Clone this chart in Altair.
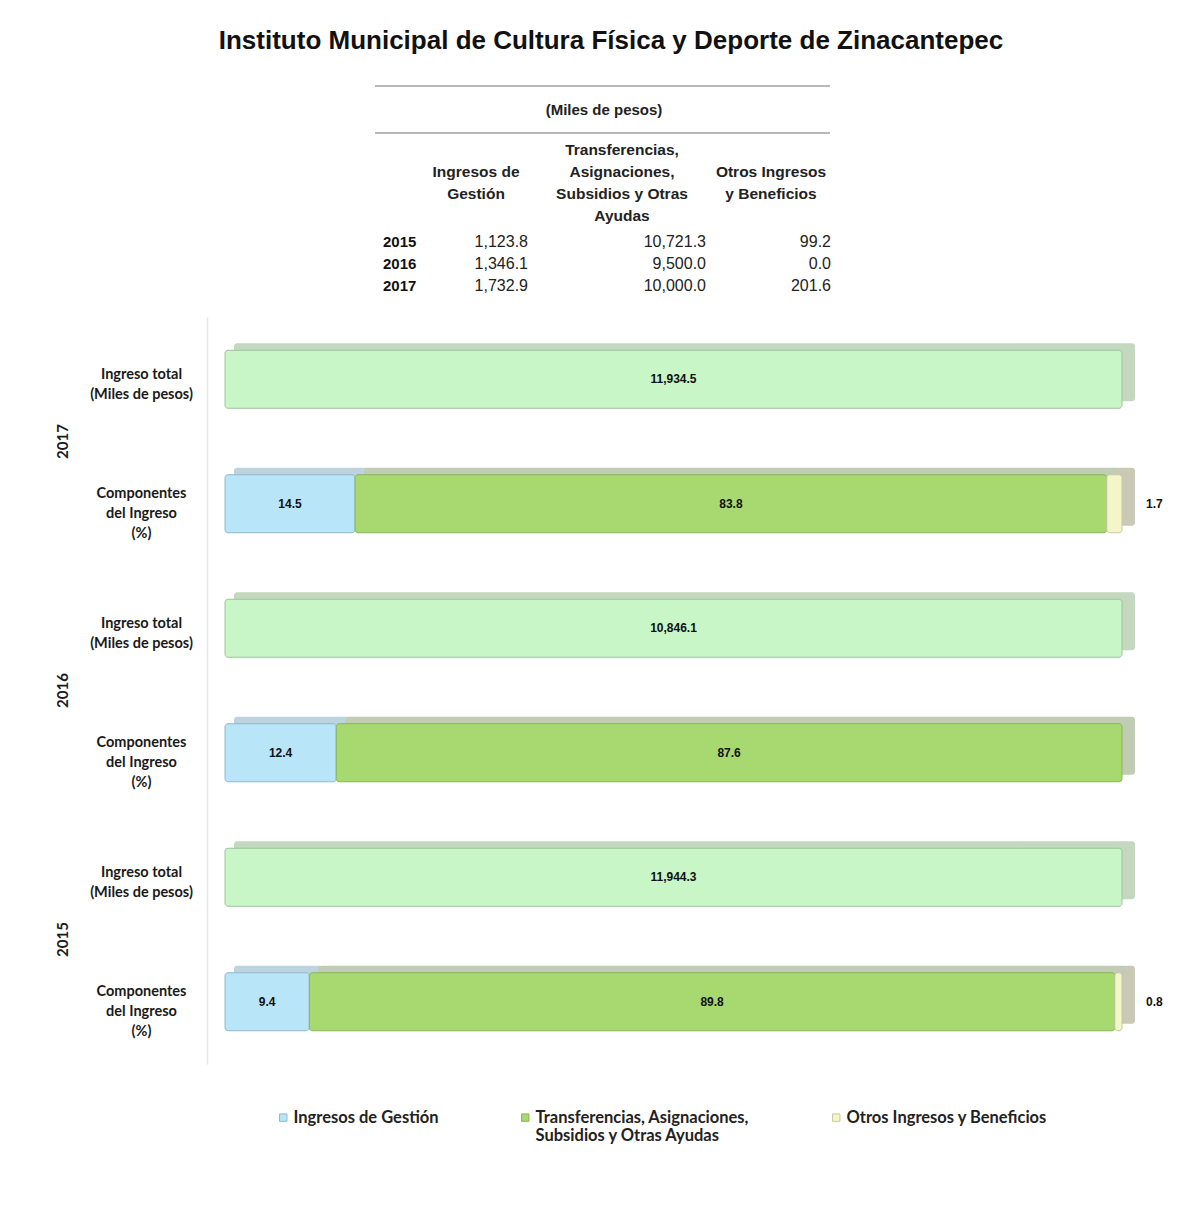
import altair as alt
import pandas as pd

# ---------------- data ----------------
TITLE = ["Instituto Municipal de Cultura Física y Deporte de Zinacantepec"]
UNIT = "(Miles de pesos)"
YEARS = ["2015", "2016", "2017"]
GESTION = [1123.8, 1346.1, 1732.9]
TRANSFER = [10721.3, 9500.0, 10000.0]
OTROS = [99.2, 0.0, 201.6]
TOTALS = [11944.3, 10846.1, 11934.5]
PCT_GESTION = [9.4, 12.4, 14.5]
PCT_TRANSFER = [89.8, 87.6, 83.8]
PCT_OTROS = [0.8, 0.0, 1.7]
COMPONENTS = ["Ingresos de Gestión",
              "Transferencias, Asignaciones, Subsidios y Otras Ayudas",
              "Otros Ingresos y Beneficios"]
HEADERS = ["Ingresos de\nGestión",
           "Transferencias,\nAsignaciones,\nSubsidios y Otras\nAyudas",
           "Otros Ingresos\ny Beneficios"]
ROW_LABELS = ["Ingreso total|(Miles de pesos)", "Componentes|del Ingreso|(%)"]
TOTAL_KIND = "Ingreso total"
YEAR_ORDER = ["2017", "2016", "2015"]

# ---------------- style ----------------
ARIAL = "Liberation Sans, Arial"
CAL = "Lato, Open Sans, sans-serif"
FACE = ["#b9e5f8", "#a8d970", "#f4f5c8"]
EDGE = ["#8fb9cc", "#86b656", "#c9c9a0"]
TOTAL_FACE = "#c8f6c6"
TOTAL_EDGE = "#9cc49a"
DEPTH = ["#c3d8bf", "#bdd3de", "#c0ccb3", "#c9c9b6"]

# table layout (page pixels) and panel origin
PX0, PY0 = 225, 8
TAB_X = {"title": 611, "unit": 604, "h0": 476, "h1": 622, "h2": 771,
         "year": 383, "v0": 528, "v1": 706, "v2": 831}
TAB_Y = {"title": 41, "unit": 110, "head0": 172, "head1": 150, "head2": 172,
         "2015": 242, "2016": 264, "2017": 286, "r1": 86, "r2": 133}
RULE_X = (375, 830)


def chain(d, field, off):
    expr = "0"
    for k, v in d.items():
        expr = f"datum.{field} == '{k}' ? {v - off} : ({expr})"
    return expr


# ---------------- table panel ----------------
trows = [{"kind": "title", "xk": "title", "yk": "title", "text": TITLE[0]},
         {"kind": "unit", "xk": "unit", "yk": "unit", "text": UNIT}]
for i, h in enumerate(HEADERS):
    trows.append({"kind": "head", "xk": f"h{i}", "yk": f"head{i}", "text": h})
for i, y in enumerate(YEARS):
    trows.append({"kind": "year", "xk": "year", "yk": y, "text": y})
    for j, arr in enumerate([GESTION, TRANSFER, OTROS]):
        trows.append({"kind": "val", "xk": f"v{j}", "yk": y, "text": f"{arr[i]:,.1f}"})
for r in ["r1", "r2"]:
    trows.append({"kind": "rule", "xk": "year", "yk": r, "text": ""})
tdf = pd.DataFrame(trows)

tbase = alt.Chart(tdf).transform_calculate(
    px=chain(TAB_X, "xk", PX0), py=chain(TAB_Y, "yk", PY0)
).encode(x=alt.X("px:Q", scale=None), y=alt.Y("py:Q", scale=None), text="text:N")

t_title = tbase.mark_text(font=ARIAL, fontSize=26, fontWeight="bold", align="center",
                          baseline="middle", color="#111").transform_filter("datum.kind == 'title'")
t_unit = tbase.mark_text(font=ARIAL, fontSize=15, fontWeight="bold", align="center",
                         baseline="middle", color="#222").transform_filter("datum.kind == 'unit'")
t_head = tbase.mark_text(font=ARIAL, fontSize=15.5, fontWeight="bold", align="center",
                         baseline="middle", lineBreak="\n", lineHeight=22,
                         color="#222").transform_filter("datum.kind == 'head'")
t_year = tbase.mark_text(font=ARIAL, fontSize=15, fontWeight="bold", align="left",
                         baseline="middle", color="#111").transform_filter("datum.kind == 'year'")
t_val = tbase.mark_text(font=ARIAL, fontSize=16, align="right",
                        baseline="middle", color="#222").transform_filter("datum.kind == 'val'")
t_rule = alt.Chart(tdf).transform_filter("datum.kind == 'rule'").transform_calculate(
    py=chain(TAB_Y, "yk", PY0)
).mark_rule(color="#b8b8b8", strokeWidth=2).encode(
    x=alt.value(RULE_X[0] - PX0), x2=alt.value(RULE_X[1] - PX0), y=alt.Y("py:Q", scale=None))

table = alt.layer(t_rule, t_title, t_unit, t_head, t_year, t_val).properties(width=897, height=309)

# ---------------- bars ----------------
brows = []
for i, y in enumerate(YEARS):
    brows.append({"year": y, "rk": f"{y}#{ROW_LABELS[0]}", "kind": TOTAL_KIND, "order": 0,
                  "pct": 100.0, "label": f"{TOTALS[i]:,.1f}"})
    for j, arr in enumerate([PCT_GESTION, PCT_TRANSFER, PCT_OTROS]):
        brows.append({"year": y, "rk": f"{y}#{ROW_LABELS[1]}", "kind": COMPONENTS[j],
                      "order": j, "pct": arr[i], "label": f"{arr[i]:.1f}"})
bdf = pd.DataFrame(brows)
RK_DOMAIN = [f"{y}#{r}" for y in YEAR_ORDER for r in ROW_LABELS]

Y = alt.Y("rk:N", scale=alt.Scale(domain=RK_DOMAIN, paddingInner=0.534, paddingOuter=0.267),
          axis=alt.Axis(title=None, labelExpr="split(slice(datum.label, 5), '|')",
                        labelAlign="center", labelBaseline="middle", labelPadding=66,
                        offset=18, ticks=False, domainColor="#e6e6e6", domainWidth=1.5,
                        labelFont=CAL, labelFontWeight="bold", labelFontSize=14.5,
                        labelColor="#1a1a1a", labelLineHeight=20, labelLimit=300,
                        labelOffset={"condition": {"test": "indexof(datum.label, 'Compon') >= 0",
                                                   "value": -10}, "value": -4}))
XS = alt.Scale(domain=[0, 100], nice=False, zero=True)

base = alt.Chart(bdf).transform_filter("datum.pct > 0").transform_stack(
    stack="pct", groupby=["rk"], as_=["x0", "x1"], sort=[alt.SortField("order")]
).transform_calculate(mid="(datum.x0 + datum.x1) / 2")

depth = base.mark_bar(xOffset=9, x2Offset=13, yOffset=-7, y2Offset=-7, cornerRadius=3).encode(
    x=alt.X("x0:Q", scale=XS, axis=None), x2="x1:Q", y=Y,
    fill=alt.Fill("kind:N", scale=alt.Scale(domain=[TOTAL_KIND] + COMPONENTS, range=DEPTH),
                  legend=None))
total = base.mark_bar(cornerRadius=3, color=TOTAL_FACE, stroke=TOTAL_EDGE, strokeWidth=1).encode(
    x=alt.X("x0:Q", scale=XS, axis=None), x2="x1:Q", y=Y
).transform_filter(f"datum.kind == '{TOTAL_KIND}'")
comps = base.mark_bar(cornerRadius=3, strokeWidth=1).encode(
    x=alt.X("x0:Q", scale=XS, axis=None), x2="x1:Q", y=Y,
    stroke=alt.Stroke("kind:N", scale=alt.Scale(domain=COMPONENTS, range=EDGE), legend=None),
    color=alt.Color("kind:N", scale=alt.Scale(domain=COMPONENTS, range=FACE),
                    legend=alt.Legend(
                        title=None, orient="none", legendX=50, legendY=1101,
                        direction="horizontal", columns=3, columnPadding=78,
                        symbolType="square", symbolSize=55, symbolStrokeColor="#888",
                        symbolStrokeWidth=1, labelFont=CAL, labelFontWeight="bold",
                        labelFontSize=16.5, labelColor="#222", labelLimit=400,
                        labelBaseline="middle", labelOffset=2,
                        labelExpr="datum.label == 'Transferencias, Asignaciones, Subsidios y Otras Ayudas' ? ['Transferencias, Asignaciones,', 'Subsidios y Otras Ayudas'] : [datum.label, ' ']"))
).transform_filter(f"datum.kind != '{TOTAL_KIND}'")
mid_text = base.mark_text(font=ARIAL, fontSize=12, fontWeight="bold", color="#111",
                          align="center", baseline="middle").encode(
    x=alt.X("mid:Q", scale=XS, axis=None), y=Y, text="label:N"
).transform_filter(f"datum.kind != '{COMPONENTS[2]}'")
out_text = base.mark_text(font=ARIAL, fontSize=12, fontWeight="bold", color="#111",
                          align="left", baseline="middle", dx=24).encode(
    x=alt.X("x1:Q", scale=XS, axis=None), y=Y, text="label:N"
).transform_filter(f"datum.kind == '{COMPONENTS[2]}'")

bars_inner = alt.layer(depth, total, comps, mid_text, out_text)

ydf = pd.DataFrame({"year": YEAR_ORDER})
year_text = alt.Chart(ydf).mark_text(font=CAL, fontSize=15, fontWeight="bold", color="#1a1a1a",
                                     angle=270, align="center", baseline="middle").encode(
    x=alt.value(63 - PX0),
    y=alt.Y("year:N", scale=alt.Scale(domain=YEAR_ORDER, padding=0.5), axis=None),
    text="year:N")

bars = alt.layer(bars_inner, year_text).resolve_scale(
    y="independent").properties(width=897, height=747)

chart = alt.vconcat(table, bars, spacing=0).properties(
    padding={"left": 48, "top": 0, "right": 5, "bottom": 5}, background="white"
).configure_view(stroke=None)

chart.save("out.html", embed_options={"renderer": "svg", "actions": False})
